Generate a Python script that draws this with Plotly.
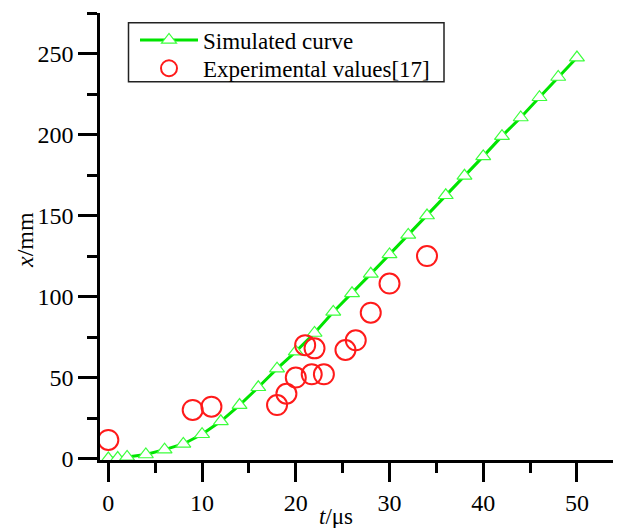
import plotly.graph_objects as go

# Simulated curve
sim_t = [0, 1, 2, 4, 6, 8, 10, 12, 14, 16, 18, 20, 22, 24, 26, 28, 30, 32, 34, 36, 38, 40, 42, 44, 46, 48, 50]
sim_x = [0, 0.3, 1, 2.5, 5.5, 9, 15, 23, 33, 44, 55.5, 66, 77.5, 90.5, 102, 114, 126, 138, 150, 162.5, 174.5, 186.5, 199, 210.5, 223, 235.5, 247.5]

# Experimental values [17]
exp_t = [0, 9, 11, 18, 19, 20, 21, 22, 21.7, 23, 25.3, 26.4, 28, 30, 34]
exp_x = [11.5, 30, 32, 33, 40, 50, 70, 68, 52, 52, 67, 73, 90, 108, 125]

FONT = "Liberation Serif, Times New Roman, serif"
OFF = 8  # page body margin offset
W, H = 621 - OFF, 528 - OFF
L, R, T, B = 100 - OFF, 0, 13 - OFF, 68
PW, PH = W - L - R, H - T - B

fig = go.Figure()
fig.add_trace(go.Scatter(
    x=sim_t, y=sim_x, mode="lines+markers", name="Simulated curve",
    line=dict(color="#00e400", width=3),
    marker=dict(symbol="triangle-up", size=13, color="white",
                line=dict(color="#3cff3c", width=1.2)),
    legend="legend",
))
fig.add_trace(go.Scatter(
    x=exp_t, y=exp_x, mode="markers", name="Experimental values[17]",
    marker=dict(symbol="circle-open", size=20, color="#ff1a1a",
                line=dict(width=2)),
    legend="legend2",
))

axis_common = dict(
    showline=True, linecolor="black", linewidth=2.5,
    ticks="outside", ticklen=19, tickwidth=2.5, tickcolor="black",
    showgrid=False, zeroline=False,
    tickfont=dict(family=FONT, size=24, color="black"),
)

fig.update_xaxes(range=[-0.89, 54.7], tick0=0, dtick=10,
                 minor=dict(ticks="outside", ticklen=10, tickwidth=2.5,
                            tickcolor="black", dtick=5, tick0=0, showgrid=False),
                 **axis_common)
fig.update_yaxes(range=[-0.9, 275], tick0=0, dtick=50,
                 minor=dict(ticks="outside", ticklen=10, tickwidth=2.5,
                            tickcolor="black", dtick=25, tick0=0, showgrid=False),
                 **axis_common)

def px_x(p):
    return (p - OFF - L) / PW

def px_y(p):
    return (H - B - (p - OFF)) / PH

fig.add_annotation(text="<i>t</i>/μs", x=px_x(336), y=px_y(516),
                   xref="paper", yref="paper", showarrow=False,
                   xanchor="center", yanchor="middle",
                   font=dict(family=FONT, size=23, color="black"))
fig.add_annotation(text="<i>x</i>/mm", x=px_x(25), y=px_y(240),
                   xref="paper", yref="paper", showarrow=False, textangle=-90,
                   xanchor="center", yanchor="middle",
                   font=dict(family=FONT, size=24, color="black"))

# legend frame
fig.add_shape(type="rect", xref="paper", yref="paper",
              x0=px_x(128.5), x1=px_x(444), y0=px_y(22.7), y1=px_y(81.7),
              line=dict(color="#222222", width=1.5), fillcolor="rgba(0,0,0,0)",
              layer="above")

leg_common = dict(xanchor="left", yanchor="middle", borderwidth=0,
                  bgcolor="rgba(0,0,0,0)",
                  font=dict(family=FONT, size=23, color="black"),
                  itemwidth=58)

fig.update_layout(
    width=W, height=H,
    margin=dict(l=L, r=R, t=T, b=B),
    plot_bgcolor="white", paper_bgcolor="white",
    showlegend=True,
    legend=dict(x=px_x(135), y=px_y(40), **leg_common),
    legend2=dict(x=px_x(135), y=px_y(68.3), **leg_common),
)

fig.write_html("out.html")
